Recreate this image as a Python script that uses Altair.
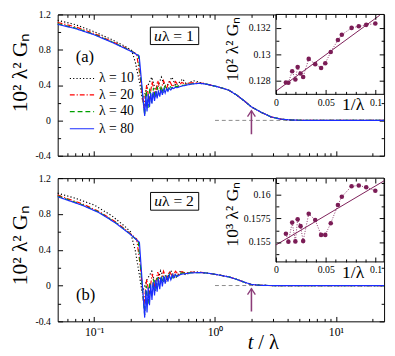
import altair as alt
import pandas as pd

FONT = "Liberation Serif, Times New Roman, serif"
SERIES = ["λ = 10", "λ = 20", "λ = 40", "λ = 80"]
COLORS = ["#000000", "#ff0000", "#00a000", "#1a2cff"]
DASHES = [[1.2, 2.2], [5, 2, 1.2, 2], [5, 3], [1, 0]]
MAROON = "#7b1c56"
ARROW_COLOR = "#8c3c78"

# ---------------- panel (a): u*lambda = 1 ----------------
t10a = [0.05, 0.07, 0.1, 0.14, 0.18, 0.205, 0.22, 0.24, 0.252, 0.275, 0.30, 0.325, 0.36, 0.39, 0.44, 0.475, 0.54, 0.58, 0.66, 0.75]
v10a = [1.134, 1.085, 1.005, 0.915, 0.84, 0.79, 0.65, 0.40, 0.22, 0.38, 0.49, 0.32, 0.49, 0.36, 0.49, 0.39, 0.47, 0.41, 0.45, 0.43]
t20a = [0.05, 0.07, 0.1, 0.14, 0.18, 0.21, 0.225, 0.24, 0.258, 0.272, 0.286, 0.302, 0.318, 0.336, 0.355, 0.375, 0.397, 0.42, 0.445, 0.472, 0.50, 0.53, 0.57, 0.62, 0.70, 0.80]
v20a = [1.109, 1.06, 0.985, 0.895, 0.825, 0.775, 0.75, 0.50, 0.14, 0.40, 0.22, 0.44, 0.28, 0.45, 0.33, 0.45, 0.36, 0.45, 0.38, 0.44, 0.39, 0.43, 0.41, 0.425, 0.425, 0.42]
t40a = [0.05, 0.07, 0.1, 0.14, 0.18, 0.21, 0.232, 0.262, 0.270, 0.279, 0.289, 0.299, 0.310, 0.321, 0.333, 0.346, 0.359, 0.373, 0.388, 0.404, 0.421, 0.439, 0.458, 0.48, 0.51, 0.56, 0.65, 0.75]
v40a = [1.094, 1.047, 0.975, 0.89, 0.82, 0.773, 0.74, 0.06, 0.33, 0.14, 0.36, 0.20, 0.37, 0.25, 0.38, 0.28, 0.39, 0.31, 0.39, 0.34, 0.395, 0.36, 0.40, 0.38, 0.395, 0.40, 0.415, 0.42]
t80a = [0.05, 0.07, 0.1, 0.14, 0.18, 0.21, 0.236, 0.262, 0.268, 0.274, 0.280, 0.287, 0.294, 0.301, 0.308, 0.316, 0.324, 0.332, 0.340, 0.349, 0.358, 0.367, 0.377, 0.387, 0.397, 0.408, 0.419, 0.431, 0.443, 0.456, 0.469, 0.485, 0.52, 0.58, 0.65, 0.75]
v80a = [1.088, 1.04, 0.97, 0.885, 0.815, 0.77, 0.73, 0.05, 0.28, 0.10, 0.30, 0.15, 0.31, 0.19, 0.32, 0.22, 0.33, 0.25, 0.34, 0.27, 0.35, 0.29, 0.355, 0.31, 0.36, 0.33, 0.365, 0.345, 0.37, 0.36, 0.375, 0.37, 0.385, 0.40, 0.413, 0.42]
tail_ta = [0.85, 1.0, 1.15, 1.3, 1.5, 1.76, 2.0, 2.4, 2.9, 3.5, 4.4, 6.0, 25.0]
tail_va = [0.41, 0.388, 0.365, 0.342, 0.29, 0.217, 0.153, 0.093, 0.04, 0.014, 0.003, 0.0, 0.0]

# ---------------- panel (b): u*lambda = 2 ----------------
t10b = [0.05, 0.07, 0.1, 0.14, 0.18, 0.2, 0.22, 0.238, 0.25, 0.275, 0.30, 0.325, 0.355, 0.39, 0.43, 0.47, 0.52, 0.57, 0.65, 0.75]
v10b = [1.032, 0.975, 0.90, 0.78, 0.66, 0.60, 0.38, 0.10, -0.08, 0.07, 0.16, -0.02, 0.165, 0.04, 0.17, 0.08, 0.165, 0.12, 0.155, 0.148]
t20b = [0.05, 0.08, 0.11, 0.15, 0.2, 0.225, 0.242, 0.258, 0.272, 0.286, 0.302, 0.318, 0.336, 0.355, 0.375, 0.397, 0.42, 0.445, 0.472, 0.50, 0.53, 0.57, 0.62, 0.70, 0.80]
v20b = [1.01, 0.912, 0.828, 0.712, 0.58, 0.52, 0.20, -0.22, 0.07, -0.10, 0.13, -0.02, 0.15, 0.04, 0.16, 0.07, 0.16, 0.10, 0.16, 0.12, 0.155, 0.14, 0.15, 0.148, 0.145]
t40b = [0.05, 0.08, 0.11, 0.15, 0.2, 0.232, 0.262, 0.270, 0.279, 0.289, 0.299, 0.310, 0.321, 0.333, 0.346, 0.359, 0.373, 0.388, 0.404, 0.421, 0.439, 0.458, 0.48, 0.51, 0.56, 0.65, 0.75]
v40b = [1.0, 0.903, 0.82, 0.705, 0.575, 0.49, -0.33, 0.0, -0.22, 0.04, -0.13, 0.07, -0.06, 0.09, -0.01, 0.11, 0.03, 0.12, 0.06, 0.13, 0.08, 0.135, 0.10, 0.135, 0.14, 0.145, 0.145]
t80b = [0.05, 0.08, 0.11, 0.15, 0.2, 0.237, 0.262, 0.268, 0.274, 0.280, 0.287, 0.294, 0.301, 0.308, 0.316, 0.324, 0.332, 0.340, 0.349, 0.358, 0.367, 0.377, 0.387, 0.397, 0.408, 0.419, 0.431, 0.443, 0.456, 0.469, 0.485, 0.52, 0.58, 0.65, 0.75]
v80b = [0.992, 0.896, 0.814, 0.70, 0.57, 0.484, -0.358, -0.05, -0.30, -0.02, -0.22, 0.01, -0.16, 0.04, -0.11, 0.06, -0.07, 0.08, -0.04, 0.095, -0.01, 0.105, 0.02, 0.11, 0.045, 0.115, 0.065, 0.12, 0.085, 0.125, 0.10, 0.125, 0.135, 0.142, 0.145]
tail_tb = [0.85, 1.0, 1.15, 1.3, 1.5, 1.76, 2.0, 2.4, 3.0, 25.0]
tail_vb = [0.14, 0.126, 0.11, 0.097, 0.07, 0.036, 0.012, 0.002, 0.0, 0.0]

# ---------------- insets ----------------
inv_lam = [0.01, 0.0125, 0.0163, 0.0195, 0.0218, 0.0247, 0.0273, 0.0329, 0.0394, 0.0453,
           0.0495, 0.055, 0.0622, 0.0661, 0.0759, 0.0831, 0.0906, 0.0997]
g_a = [0.12786, 0.12784, 0.12871, 0.12809, 0.12903, 0.12854, 0.12828, 0.12965, 0.12925, 0.12896,
       0.12932, 0.13017, 0.13108, 0.13148, 0.132, 0.13212, 0.13223, 0.13233]
g_b = [0.15589, 0.15503, 0.15707, 0.15507, 0.15741, 0.15669, 0.1551, 0.158, 0.15734, 0.15576,
       0.15576, 0.157, 0.15893, 0.15982, 0.16093, 0.161, 0.16082, 0.16044]
fit_x_a = [0.0, 0.1042]
fit_g_a = [0.1272, 0.13296]
fit_x_b = [0.0, 0.1085]
fit_g_b = [0.15469, 0.1615]

# ---------------- axes / ticks ----------------
X_DOMAIN = [0.05, 25]
Y_DOMAIN = [-0.4, 1.2]
X_MAJOR = [0.1, 1, 10]
X_MINOR = [0.06, 0.07, 0.08, 0.09, 0.2, 0.3, 0.4, 0.5, 0.6, 0.7, 0.8, 0.9, 2, 3, 4, 5, 6, 7, 8, 9, 20]
Y_MAJOR = [-0.4, 0, 0.4, 0.8, 1.2]
Y_MINOR = [-0.2, 0.2, 0.6, 1.0]
INSET_X = [0.0, 0.1085]
INSET_X_MAJOR = [0, 0.05, 0.1]
INSET_X_MINOR = [0.01, 0.02, 0.03, 0.04, 0.06, 0.07, 0.08, 0.09]
INSET_Y_A = [0.12696, 0.13302]
INSET_Y_MAJOR_A = [0.128, 0.13, 0.132]
INSET_Y_MINOR_A = [0.129, 0.131]
INSET_Y_B = [0.15289, 0.16179]
INSET_Y_MAJOR_B = [0.155, 0.1575, 0.16]
INSET_Y_MINOR_B = [0.15375, 0.15625, 0.15875, 0.16125]

LEGEND_V = [0.475, 0.29, 0.1, -0.095]
LEGEND_T = [0.063, 0.1, 0.11]
ZERO_T = [1.0, 25.0]
ARROW_T = 2.0

W = 335
INSET_LEFT = 224


def curves_df(ts, vs, tail_t, tail_v):
    rows = []
    for name, t, v in zip(SERIES, ts, vs):
        for ti, vi in zip(list(t) + tail_t, list(v) + tail_v):
            rows.append({"t": ti, "v": vi, "series": name})
    return pd.DataFrame(rows)


def axis(orient, values, size, z=0, offset=0, **kw):
    base = dict(orient=orient, values=values, tickSize={"expr": str(-size)}, domain=False,
                grid=False, tickColor="black", tickWidth=1, zindex=z, offset=offset,
                labelFlush=False, labels=False, title=None)
    base.update(kw)
    return alt.Axis(**base)


def make_panel(df, H, g, fit_x, fit_g, iy, iy_major, iy_minor, iy_fmt, inset_h,
               tag, tag_t, tag_v, ulam, box, arrow_v, bottom, legend, ytitle_y,
               ititle, ititle_y):
    xs = alt.Scale(type="log", domain=X_DOMAIN, nice=False)
    ys = alt.Scale(domain=Y_DOMAIN, nice=False, zero=False)
    color = alt.Color("series:N", scale=alt.Scale(domain=SERIES, range=COLORS), legend=None)
    dash = alt.StrokeDash("series:N", scale=alt.Scale(domain=SERIES, range=DASHES), legend=None)

    def X(f, a=None):
        return alt.X(f, type="quantitative", scale=xs, axis=a)

    def Y(f, a=None):
        return alt.Y(f, type="quantitative", scale=ys, axis=a)

    layers = []
    layers.append(alt.Chart(pd.DataFrame({"t": [ZERO_T[0]], "t2": [ZERO_T[1]], "v": [0.0]}))
                  .mark_rule(color="#8a8a8a", strokeDash=[4, 3], strokeWidth=1)
                  .encode(x=X("t"), x2="t2", y=Y("v")))
    layers.append(alt.Chart(df).mark_line(strokeWidth=1.2)
                  .encode(x=X("t"), y=Y("v"), color=color, strokeDash=dash, detail="series:N"))
    adf = pd.DataFrame({"t": [ARROW_T], "lo": [arrow_v[0]], "hi": [arrow_v[1]]})
    layers.append(alt.Chart(adf).mark_rule(color=ARROW_COLOR, strokeWidth=1.6)
                  .encode(x=X("t"), y=Y("lo"), y2="hi"))
    layers.append(alt.Chart(adf).mark_point(shape="M-1,1.5L0,0L1,1.5", size=64, filled=False,
                                            stroke=ARROW_COLOR, strokeWidth=1.4, opacity=1)
                  .encode(x=X("t"), y=Y("hi")))
    bdf = pd.DataFrame({"t1": [box[0]], "t2": [box[1]], "v1": [box[2]], "v2": [box[3]],
                        "tc": [(box[0] * box[1]) ** 0.5], "vc": [(box[2] + box[3]) / 2]})
    layers.append(alt.Chart(bdf).mark_rect(fill="white", stroke="black", strokeWidth=1)
                  .encode(x=X("t1"), x2="t2", y=Y("v1"), y2="v2"))
    layers.append(alt.Chart(bdf).mark_text(text="u", font=FONT, fontSize=16, fontStyle="italic",
                                           align="left", baseline="middle", dx=-21, color="black")
                  .encode(x=X("tc"), y=Y("vc")))
    layers.append(alt.Chart(bdf).mark_text(text=ulam, font=FONT, fontSize=16,
                                           align="left", baseline="middle", dx=-13, color="black")
                  .encode(x=X("tc"), y=Y("vc")))
    layers.append(alt.Chart(pd.DataFrame({"t": [tag_t], "v": [tag_v], "s": [tag]}))
                  .mark_text(font=FONT, fontSize=17, baseline="middle", color="black")
                  .encode(x=X("t"), y=Y("v"), text="s:N"))
    if legend:
        ldf = pd.DataFrame({"series": SERIES, "v": LEGEND_V, "t1": [LEGEND_T[0]] * 4,
                            "t2": [LEGEND_T[1]] * 4, "tt": [LEGEND_T[2]] * 4})
        layers.append(alt.Chart(ldf).mark_rule(strokeWidth=1.2)
                      .encode(x=X("t1"), x2="t2", y=Y("v"), color=color, strokeDash=dash))
        layers.append(alt.Chart(ldf).mark_text(font=FONT, fontSize=14, align="left",
                                               baseline="middle", color="black")
                      .encode(x=X("tt"), y=Y("v"), text="series:N"))
    if bottom:
        tdf = pd.DataFrame({"t": [2.195], "v": [Y_DOMAIN[0]]})
        layers.append(alt.Chart(tdf).mark_text(text="t", font=FONT, fontSize=21, fontStyle="italic",
                                               align="right", baseline="middle", dx=-3, dy=22,
                                               color="black")
                      .encode(x=X("t"), y=Y("v")))
        layers.append(alt.Chart(tdf).mark_text(text="/ λ", font=FONT, fontSize=21,
                                               align="left", baseline="middle", dx=2, dy=22,
                                               color="black")
                      .encode(x=X("t"), y=Y("v")))

    one = pd.DataFrame({"t": [1.0], "v": [0.0]})

    def axl(xa, ya):
        return alt.Chart(one).mark_point(opacity=0).encode(x=X("t", xa), y=Y("v", ya))

    if bottom:
        xmaj = axis("bottom", X_MAJOR, 5, labels=True, labelPadding=11, labelFontSize=12,
                    labelFont=FONT,
                    labelExpr="datum.value < 0.5 ? '10\u207b\u00b9' : (datum.value < 5 ? '10\u2070' : '10\u00b9')")
    else:
        xmaj = axis("bottom", X_MAJOR, 5)
    ymaj = axis("left", Y_MAJOR, 5, labels=True, labelPadding=12.5, labelFontSize=10,
                labelFont=FONT, format=".1~f",
                labelExpr="replace(datum.label, '\u2212', '-')",
                title="10² λ² Gₙ", titleFont=FONT, titleFontSize=22, titleFontWeight="normal",
                titleAngle=270, titleX=-38.7, titleY=ytitle_y, titleAlign="center",
                titleBaseline="middle", titleColor="black")
    layers.append(axl(xmaj, ymaj))
    layers.append(axl(axis("bottom", X_MINOR, 3), axis("left", Y_MINOR, 3)))
    layers.append(axl(axis("top", X_MAJOR, 5), axis("right", Y_MAJOR, 5)))
    layers.append(axl(axis("top", X_MINOR, 3), axis("right", Y_MINOR, 3)))
    main = alt.layer(*layers).resolve_axis(x="independent", y="independent")

    # ---------------- inset ----------------
    px_x = (INSET_X[1] - INSET_X[0]) / (W - INSET_LEFT)
    xi = alt.Scale(domain=[INSET_X[0] - INSET_LEFT * px_x, INSET_X[1]], nice=False, zero=False)
    px_y = (iy[1] - iy[0]) / inset_h
    yi = alt.Scale(domain=[iy[1] - H * px_y, iy[1]], nice=False, zero=False)

    def XI(f, a=None):
        return alt.X(f, type="quantitative", scale=xi, axis=a)

    def YI(f, a=None):
        return alt.Y(f, type="quantitative", scale=yi, axis=a)

    ilayers = []
    fdf = pd.DataFrame({"x1": [INSET_X[0]], "x2": [INSET_X[1]], "y1": [iy[0]], "y2": [iy[1]]})
    ilayers.append(alt.Chart(fdf).mark_rect(fill="white", stroke="black", strokeWidth=1)
                   .encode(x=XI("x1"), x2="x2", y=YI("y1"), y2="y2"))
    pdf = pd.DataFrame({"x": inv_lam, "g": g})
    ilayers.append(alt.Chart(pdf).mark_line(color=MAROON, strokeDash=[1, 1.6], strokeWidth=0.9)
                   .encode(x=XI("x"), y=YI("g")))
    ilayers.append(alt.Chart(pd.DataFrame({"x": fit_x, "g": fit_g}))
                   .mark_line(color=MAROON, strokeWidth=1)
                   .encode(x=XI("x"), y=YI("g")))
    ilayers.append(alt.Chart(pdf).mark_circle(color=MAROON, size=22, opacity=1)
                   .encode(x=XI("x"), y=YI("g")))
    ilayers.append(alt.Chart(pd.DataFrame({"x": [0.0775], "g": [iy[0]]}))
                   .mark_text(text="1/λ", font=FONT, fontSize=18, baseline="middle", dy=11,
                              color="black")
                   .encode(x=XI("x"), y=YI("g")))

    ione = pd.DataFrame({"x": [0.05], "g": [(iy[0] + iy[1]) / 2]})

    def iaxl(xa, ya):
        return alt.Chart(ione).mark_point(opacity=0).encode(x=XI("x", xa), y=YI("g", ya))

    boff = -(H - inset_h)
    ixmaj = axis("bottom", INSET_X_MAJOR, 5, z=1, offset=boff, labels=True, labelPadding=8,
                 labelFontSize=10, labelFont=FONT, format=".2~f")
    iymaj = axis("left", iy_major, 5, z=1, offset=-INSET_LEFT, labels=True, labelPadding=11,
                 labelFontSize=10, labelFont=FONT, format=iy_fmt,
                 title=ititle, titleFont=FONT, titleFontSize=18, titleFontWeight="normal",
                 titleAngle=270, titleX=-44.2, titleY=ititle_y, titleAlign="center",
                 titleBaseline="middle", titleColor="black")
    ilayers.append(iaxl(ixmaj, iymaj))
    ilayers.append(iaxl(axis("bottom", INSET_X_MINOR, 3, z=1, offset=boff),
                        axis("left", iy_minor, 3, z=1, offset=-INSET_LEFT)))
    ilayers.append(iaxl(axis("top", INSET_X_MAJOR, 5, z=1), axis("right", iy_major, 5, z=1)))
    ilayers.append(iaxl(axis("top", INSET_X_MINOR, 3, z=1), axis("right", iy_minor, 3, z=1)))
    inset = alt.layer(*ilayers).resolve_axis(x="independent", y="independent")

    return (alt.layer(main, inset)
            .resolve_scale(x="independent", y="independent")
            .resolve_axis(x="independent", y="independent")
            .properties(width=W, height=H))


df_a = curves_df([t10a, t20a, t40a, t80a], [v10a, v20a, v40a, v80a], tail_ta, tail_va)
df_b = curves_df([t10b, t20b, t40b, t80b], [v10b, v20b, v40b, v80b], tail_tb, tail_vb)

panel_a = make_panel(df_a, 145, g_a, fit_x_a, fit_g_a, INSET_Y_A, INSET_Y_MAJOR_A, INSET_Y_MINOR_A,
                     ".3~f", 82, "(a)", 0.0839, 0.717, "λ = 1", [0.292, 0.733, 0.859, 1.056],
                     [-0.157, 0.11], False, True, 59, "10² λ² Gₙ", 35)
panel_b = make_panel(df_b, 147, g_b, fit_x_b, fit_g_b, INSET_Y_B, INSET_Y_MAJOR_B, INSET_Y_MINOR_B,
                     ".4~f", 86, "(b)", 0.085, -0.108, "λ = 2", [0.293, 0.733, 0.842, 1.04],
                     [-0.29, -0.035], True, False, 68.5, "10³ λ² Gₙ", 36.5)

chart = (alt.vconcat(panel_a, panel_b, spacing=11)
         .resolve_scale(x="independent", y="independent")
         .properties(padding={"left": 0, "top": -4, "right": 0, "bottom": 0})
         .configure_view(stroke="black", strokeWidth=1)
         .configure_axis(labelFont=FONT, titleFont=FONT, labelColor="black", titleColor="black",
                         tickColor="black"))

chart.save("out.html", embed_options={"renderer": "svg", "actions": False})
